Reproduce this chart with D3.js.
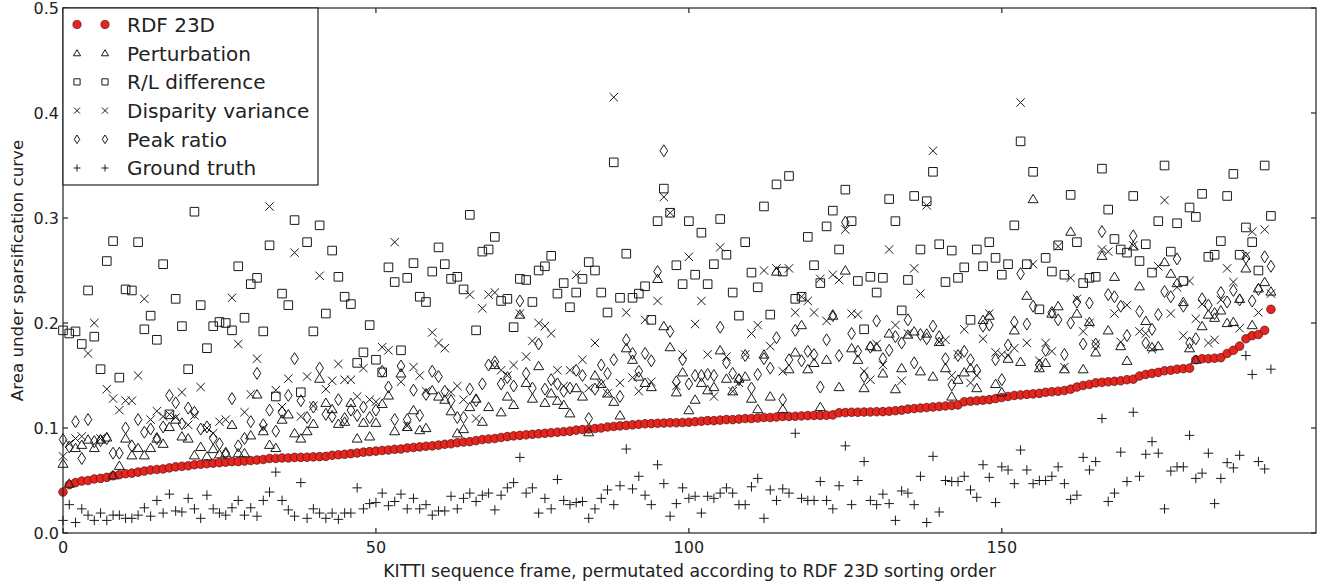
<!DOCTYPE html>
<html>
<head>
  <meta charset="UTF-8">
  <title>Area under sparsification curve</title>
  <script src="https://d3js.org/d3.v7.min.js"></script>
  <style>
    body { margin: 0; background: #fff; }
    svg { display: block; font-family: "DejaVu Sans", sans-serif; }
    .mark { fill: none; stroke: #1a1a1a; stroke-width: 1px; }
    .tick-label { font-size: 16px; fill: #222; }
    .x-title { font-size: 17.3px; fill: #222; }
    .y-title { font-size: 16.7px; fill: #222; }
    .legend-text { font-size: 20px; fill: #222; }
  </style>
</head>
<body>
<svg id="chart" width="1320" height="583"></svg>
<script>
// values, one per frame (0..193)
const rdf23d = [
  .039,.046,.048,.0495,.050,.0515,.052,.053,.0545,.0555,
  .0565,.057,.058,.059,.060,.0605,.061,.062,.063,.0635,
  .064,.065,.0655,.066,.0665,.067,.0675,.068,.068,.0685,
  .069,.0695,.070,.071,.071,.0715,.0715,.072,.072,.0722,
  .0725,.0727,.073,.074,.0745,.075,.0756,.0762,.077,.0775,
  .078,.0786,.079,.0797,.080,.081,.0815,.082,.0826,.083,
  .0837,.0845,.085,.086,.0866,.087,.088,.089,.0895,.090,
  .091,.0918,.0925,.093,.0935,.094,.0945,.095,.0955,.096,
  .0965,.097,.098,.0985,.099,.0995,.100,.101,.1015,.102,
  .1025,.103,.1035,.104,.1042,.1045,.1047,.105,.105,.1052,
  .1055,.106,.1065,.107,.107,.1075,.108,.108,.1085,.109,
  .109,.1095,.110,.110,.1105,.111,.111,.1112,.1115,.1118,
  .112,.112,.1122,.1125,.1145,.1147,.115,.115,.1152,.1153,
  .1155,.1156,.116,.1165,.117,.118,.1185,.119,.1195,.120,
  .1205,.121,.1215,.122,.125,.1255,.126,.1265,.127,.128,
  .129,.130,.131,.1315,.132,.1325,.133,.134,.1345,.135,
  .1357,.137,.139,.1405,.1415,.143,.1435,.144,.1445,.145,
  .146,.1465,.1495,.151,.152,.153,.1545,.155,.156,.1565,
  .157,.165,.166,.166,.1665,.167,.171,.174,.178,.185,
  .188,.189,.193,.213
];
const perturbation = [
  .066,.047,.081,.084,.089,.081,.089,.091,.055,.064,
  .090,.074,.081,.074,.081,.090,.085,.101,.108,.092,
  .090,.074,.082,.073,.080,.075,.076,.103,.076,.076,
  .093,.132,.097,.084,.081,.108,.113,.095,.090,.097,
  .104,.147,.124,.118,.104,.106,.124,.090,.105,.092,
  .105,.123,.131,.097,.152,.101,.117,.098,.100,.136,
  .130,.127,.116,.095,.099,.120,.128,.106,.120,.160,
  .115,.130,.122,.208,.143,.128,.159,.124,.133,.126,
  .122,.114,.138,.130,.096,.150,.142,.133,.125,.112,
  .176,.165,.149,.143,.139,.242,.197,.177,.134,.153,
  .117,.127,.143,.136,.139,.174,.147,.135,.147,.149,
  .128,.118,.170,.130,.249,.118,.156,.172,.198,.156,
  .162,.120,.165,.207,.139,.250,.176,.165,.138,.178,
  .177,.152,.190,.137,.157,.189,.192,.154,.190,.149,
  .182,.157,.130,.146,.153,.157,.138,.203,.207,.142,
  .134,.166,.193,.163,.226,.318,.157,.162,.209,.216,
  .156,.287,.209,.156,.201,.172,.264,.193,.244,.178,
  .164,.273,.235,.202,.177,.178,.258,.247,.238,.220,
  .176,.165,.197,.208,.205,.212,.200,.201,.223,.252,
  .198,.233,.239,.230
];
const rlDifference = [
  .193,.190,.192,.180,.231,.187,.156,.259,.278,.148,
  .232,.231,.277,.194,.207,.184,.256,.113,.223,.197,
  .156,.306,.217,.176,.197,.201,.200,.193,.254,.205,
  .237,.243,.192,.274,.130,.228,.217,.298,.134,.277,
  .192,.293,.209,.269,.244,.225,.218,.162,.172,.198,
  .165,.153,.253,.239,.174,.243,.257,.225,.220,.249,
  .272,.256,.242,.244,.232,.303,.193,.268,.270,.282,
  .221,.223,.196,.242,.241,.220,.250,.254,.264,.228,
  .238,.215,.229,.242,.258,.250,.229,.210,.353,.224,
  .266,.224,.228,.235,.203,.297,.328,.305,.255,.237,
  .297,.246,.286,.237,.256,.299,.265,.229,.207,.277,
  .248,.234,.311,.208,.332,.249,.340,.223,.225,.282,
  .255,.238,.292,.307,.270,.327,.297,.240,.194,.244,
  .229,.243,.318,.297,.212,.241,.321,.270,.316,.344,
  .275,.239,.269,.243,.253,.203,.270,.254,.277,.262,
  .246,.256,.293,.373,.256,.344,.213,.262,.249,.274,
  .246,.322,.277,.238,.243,.244,.347,.308,.280,.270,
  .267,.321,.259,.275,.248,.297,.350,.268,.295,.240,
  .310,.301,.323,.263,.265,.278,.321,.342,.265,.291,
  .277,.250,.350,.302
];
const disparityVariance = [
  .073,.085,.090,.092,.171,.200,.090,.137,.128,.117,
  .126,.126,.150,.223,.108,.116,.111,.113,.110,.134,
  .103,.112,.139,.100,.095,.106,.108,.224,.180,.115,
  .132,.166,.100,.311,.136,.120,.147,.267,.111,.149,
  .121,.245,.137,.145,.161,.146,.146,.130,.157,.127,
  .125,.177,.174,.277,.144,.102,.158,.150,.135,.191,
  .181,.176,.134,.140,.127,.227,.109,.214,.227,.229,
  .155,.150,.160,.209,.168,.183,.200,.197,.190,.155,
  .140,.155,.246,.165,.138,.181,.142,.133,.415,.143,
  .210,.148,.135,.203,.144,.221,.320,.305,.140,.170,
  .263,.199,.221,.170,.130,.272,.168,.135,.143,.170,
  .190,.198,.250,.178,.252,.154,.252,.210,.225,.221,
  .210,.242,.202,.246,.241,.289,.209,.208,.154,.146,
  .180,.160,.270,.198,.145,.190,.252,.228,.312,.364,
  .182,.184,.150,.170,.194,.143,.150,.185,.209,.172,
  .170,.169,.176,.410,.181,.256,.164,.181,.173,.273,
  .158,.243,.223,.192,.200,.180,.270,.268,.209,.182,
  .217,.274,.192,.190,.175,.254,.317,.209,.234,.188,
  .240,.204,.218,.181,.184,.222,.252,.239,.195,.264,
  .287,.210,.289,.228
];
const peakRatio = [
  .089,.082,.106,.071,.108,.087,.088,.090,.076,.076,
  .100,.083,.108,.096,.099,.090,.101,.131,.124,.104,
  .119,.115,.099,.101,.090,.085,.076,.128,.083,.090,
  .106,.152,.103,.117,.097,.115,.131,.166,.126,.110,
  .120,.157,.113,.111,.127,.109,.117,.112,.120,.110,
  .117,.154,.139,.108,.159,.108,.136,.112,.132,.154,
  .149,.135,.126,.110,.110,.137,.126,.142,.160,.163,
  .142,.148,.140,.221,.152,.138,.180,.137,.146,.142,
  .135,.138,.155,.150,.109,.137,.160,.152,.165,.130,
  .184,.171,.154,.171,.164,.249,.364,.192,.144,.165,
  .142,.150,.150,.151,.150,.196,.162,.152,.146,.169,
  .138,.151,.166,.157,.186,.127,.165,.193,.164,.173,
  .170,.139,.184,.207,.169,.296,.190,.173,.149,.177,
  .202,.166,.174,.187,.181,.203,.162,.189,.185,.197,
  .187,.166,.141,.169,.173,.165,.155,.197,.198,.165,
  .146,.179,.201,.247,.199,.216,.160,.174,.210,.203,
  .170,.200,.220,.180,.219,.180,.287,.227,.225,.216,
  .188,.283,.211,.181,.194,.208,.230,.225,.261,.216,
  .181,.185,.223,.217,.209,.229,.220,.231,.222,.262,
  .221,.232,.263,.254
];
const groundTruth = [
  .012,.027,.010,.023,.017,.012,.019,.012,.017,.017,
  .014,.014,.017,.024,.016,.031,.019,.037,.021,.020,
  .033,.023,.014,.036,.023,.019,.017,.024,.031,.017,
  .024,.016,.031,.039,.058,.031,.022,.016,.048,.014,
  .023,.019,.014,.019,.013,.019,.019,.043,.023,.028,
  .029,.038,.026,.030,.037,.023,.033,.023,.027,.017,
  .021,.021,.035,.023,.033,.038,.030,.036,.038,.022,
  .036,.043,.048,.072,.038,.043,.019,.033,.023,.051,
  .031,.027,.029,.030,.014,.023,.033,.041,.027,.045,
  .080,.042,.054,.036,.027,.065,.047,.016,.028,.043,
  .033,.035,.019,.035,.033,.038,.043,.038,.027,.027,
  .044,.052,.014,.041,.031,.042,.038,.095,.033,.031,
  .031,.049,.031,.023,.045,.083,.027,.050,.068,.031,
  .027,.037,.028,.012,.040,.038,.027,.054,.010,.073,
  .020,.050,.049,.049,.054,.041,.034,.065,.053,.029,
  .063,.060,.047,.079,.060,.047,.050,.050,.054,.063,
  .047,.032,.036,.072,.060,.068,.109,.030,.038,.077,
  .049,.115,.054,.075,.087,.076,.023,.059,.063,.063,
  .093,.052,.057,.076,.028,.052,.067,.062,.074,.169,
  .151,.068,.061,.156
];

const xTicks = [0, 50, 100, 150];
const yTicks = [0, 0.1, 0.2, 0.3, 0.4, 0.5];

const seriesNames = ["RDF 23D", "Perturbation", "R/L difference",
                     "Disparity variance", "Peak ratio", "Ground truth"];
const seriesMarkers = ["circle", "triangle", "square", "times", "diamond", "plus"];
const seriesValues = [rdf23d, perturbation, rlDifference, disparityVariance, peakRatio, groundTruth];

// plot box
const margin = {top: 8, right: 4, bottom: 50, left: 63};
const W = 1320, H = 583;

const x = d3.scaleLinear().domain([0, 200.2]).range([margin.left, W - margin.right]);
const y = d3.scaleLinear().domain([0, 0.5]).range([H - margin.bottom, margin.top]);

const svg = d3.select("#chart");

// marker outline, centred on 0,0; k scales it
function markerPath(type, k) {
  const p = d3.path();
  if (type === "triangle") {
    const w = 5 * k, h = 4.2 * k, off = 0.6 * k;
    p.moveTo(0, -h - off); p.lineTo(w, h - off); p.lineTo(-w, h - off); p.closePath();
  } else if (type === "square") {
    const s = 4.3 * k;
    p.rect(-s, -s, 2 * s, 2 * s);
  } else if (type === "times") {
    const s = 4.2 * k;
    p.moveTo(-s, -s); p.lineTo(s, s);
    p.moveTo(-s, s); p.lineTo(s, -s);
  } else if (type === "diamond") {
    const w = 3.8 * k, h = 6 * k;
    p.moveTo(0, -h); p.lineTo(w, 0); p.lineTo(0, h); p.lineTo(-w, 0); p.closePath();
  } else if (type === "plus") {
    const s = 4.8 * k;
    p.moveTo(-s, 0); p.lineTo(s, 0);
    p.moveTo(0, -s); p.lineTo(0, s);
  }
  return p.toString();
}

const plot = svg.append("g");

seriesValues.forEach((vals, si) => {
  const type = seriesMarkers[si];
  const g = plot.append("g").attr("class", "series-" + si);
  if (type === "circle") {
    g.selectAll("circle").data(vals).join("circle")
      .attr("cx", (d, i) => x(i))
      .attr("cy", d => y(d))
      .attr("r", 4.3)
      .attr("fill", "#e8241f")
      .attr("stroke", "#4a1212")
      .attr("stroke-width", 0.7);
  } else {
    g.selectAll("path").data(vals).join("path")
      .attr("class", "mark")
      .attr("transform", (d, i) => `translate(${x(i)},${y(d)})`)
      .attr("d", markerPath(type, 1));
  }
});

// frame and inward ticks
const x0 = x.range()[0], x1 = x.range()[1], y0 = y.range()[0], y1 = y.range()[1];
const axes = svg.append("g").attr("stroke", "#222").attr("stroke-width", 1.2);
axes.append("rect")
  .attr("x", x0).attr("y", y1).attr("width", x1 - x0).attr("height", y0 - y1)
  .attr("fill", "none");

xTicks.forEach(t => {
  axes.append("line").attr("x1", x(t)).attr("x2", x(t)).attr("y1", y0).attr("y2", y0 - 5);
  axes.append("line").attr("x1", x(t)).attr("x2", x(t)).attr("y1", y1).attr("y2", y1 + 5);
});
yTicks.forEach(t => {
  axes.append("line").attr("x1", x0).attr("x2", x0 + 5).attr("y1", y(t)).attr("y2", y(t));
  axes.append("line").attr("x1", x1).attr("x2", x1 - 5).attr("y1", y(t)).attr("y2", y(t));
});

svg.append("g").selectAll("text").data(xTicks).join("text")
  .attr("class", "tick-label")
  .attr("x", d => x(d)).attr("y", y0 + 20)
  .attr("text-anchor", "middle")
  .text(d => d3.format("d")(d));

svg.append("g").selectAll("text").data(yTicks).join("text")
  .attr("class", "tick-label")
  .attr("x", x0 - 4).attr("y", d => y(d) + 5.5)
  .attr("text-anchor", "end")
  .text(d => d3.format(".1f")(d));

svg.append("text")
  .attr("class", "x-title")
  .attr("x", (x0 + x1) / 2).attr("y", 577)
  .attr("text-anchor", "middle")
  .text("KITTI sequence frame, permutated according to RDF 23D sorting order");

svg.append("text")
  .attr("class", "y-title")
  .attr("transform", `translate(23,${(y0 + y1) / 2}) rotate(-90)`)
  .attr("text-anchor", "middle")
  .text("Area under sparsification curve");

// legend, two sample markers per entry
const legend = svg.append("g");
legend.append("rect")
  .attr("x", x0).attr("y", y1).attr("width", 255).attr("height", 177)
  .attr("fill", "#fff").attr("stroke", "#222").attr("stroke-width", 1.2);

seriesNames.forEach((name, i) => {
  const ly = 24.5 + i * 28.7;
  [77, 105].forEach(lx => {
    if (seriesMarkers[i] === "circle") {
      legend.append("circle").attr("cx", lx).attr("cy", ly).attr("r", 4.1)
        .attr("fill", "#e8241f").attr("stroke", "#4a1212").attr("stroke-width", 0.7);
    } else {
      legend.append("path").attr("class", "mark")
        .attr("transform", `translate(${lx},${ly})`)
        .attr("d", markerPath(seriesMarkers[i], 0.72));
    }
  });
  legend.append("text")
    .attr("class", "legend-text")
    .attr("x", 127).attr("y", ly + 7.3)
    .text(name);
});
</script>
</body>
</html>
